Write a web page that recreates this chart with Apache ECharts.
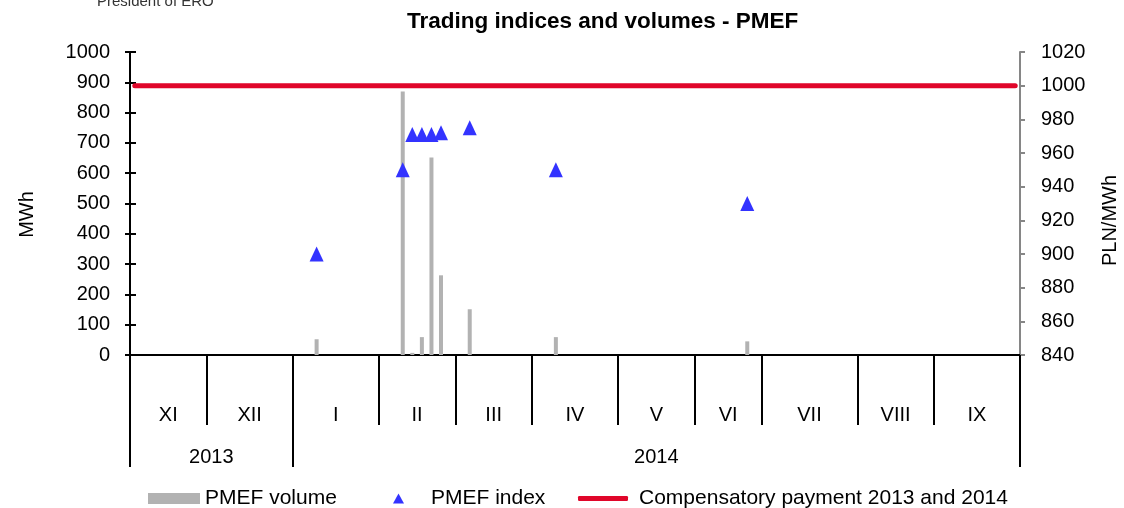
<!DOCTYPE html>
<html>
<head>
<meta charset="utf-8">
<script src="https://cdn.jsdelivr.net/npm/echarts@6/dist/echarts.min.js"></script>
<style>
html,body{margin:0;padding:0;background:#fff;}
#chart{width:1124px;height:508px;}
</style>
</head>
<body>
<div id="chart"></div>
<script>
// ---- data ----
const monthLabels = ['XI','XII','I','II','III','IV','V','VI','VII','VIII','IX'];
const monthSlots = [8, 9, 9, 8, 8, 9, 8, 7, 10, 8, 9];   // slots per month on the date axis
const yearLabels = ['2013', '2014'];
const yearMonthCounts = [2, 9];                            // months per year group
const tradeSlots = [19, 28, 29, 30, 31, 32, 35, 44, 64];   // slot index of each trading day
const volumeMWh = [52, 870, 7, 59, 652, 263, 151, 59, 45];
const indexPLN = [900, 950, 971, 971, 971, 972, 975, 950, 930];
const compensatoryPLN = 1000;
const leftAxisRange = [0, 1000, 100];
const rightAxisRange = [840, 1020, 20];

// ---- derived structures ----
const totalSlots = monthSlots.reduce((a, b) => a + b, 0);
const monthBounds = [0];
monthSlots.forEach(n => monthBounds.push(monthBounds[monthBounds.length - 1] + n));
const monthMids = monthSlots.map((n, i) => monthBounds[i] + n / 2);
const yearBounds = [0];
let mi = 0;
yearMonthCounts.forEach(c => { mi += c; yearBounds.push(monthBounds[mi]); });
const yearMids = yearLabels.map((_, i) => (yearBounds[i] + yearBounds[i + 1]) / 2);
function nearestLabel(v, mids, labels) {
  let best = 0;
  mids.forEach((m, i) => { if (Math.abs(m - v) < Math.abs(mids[best] - v)) best = i; });
  return labels[best];
}

const FONT = 'Liberation Sans';
const volumeData = tradeSlots.map((s, i) => [s + 0.5, volumeMWh[i]]);
const indexData = tradeSlots.map((s, i) => [s + 0.5, indexPLN[i]]);
const compData = [[0.5, compensatoryPLN], [totalSlots - 0.5, compensatoryPLN]];

const chart = echarts.init(document.getElementById('chart'), null, {renderer: 'canvas'});
const hiddenX = {
  type: 'value', min: 0, max: totalSlots, gridIndex: 0, position: 'bottom',
  splitLine: {show: false}
};
const plain = v => String(v);
chart.setOption({
  animation: false,
  textStyle: {fontFamily: FONT, color: '#000'},
  title: [
    {text: 'Trading indices and volumes - PMEF', left: 402, top: 5,
     textStyle: {fontFamily: FONT, fontSize: 22.5, fontWeight: 'bold', color: '#000'}},
    {text: 'President of ERO', left: 92, top: -11,
     textStyle: {fontFamily: FONT, fontSize: 15, fontWeight: 'normal', color: '#333'}}
  ],
  legend: [
    {data: ['PMEF volume'], left: 143, top: 483, icon: 'rect', itemWidth: 52, itemHeight: 11,
     textStyle: {fontFamily: FONT, fontSize: 21, color: '#000'}},
    {data: ['PMEF index'], left: 388, top: 483, icon: 'triangle', itemWidth: 11, itemHeight: 10,
     textStyle: {fontFamily: FONT, fontSize: 21, color: '#000', padding: [0, 0, 0, 22]}},
    {data: ['Compensatory payment 2013 and 2014'], left: 573, top: 483, icon: 'roundRect',
     itemWidth: 50, itemHeight: 5,
     textStyle: {fontFamily: FONT, fontSize: 21, color: '#000', padding: [0, 0, 0, 6]}}
  ],
  grid: {left: 130, right: 104, top: 52, bottom: 153, containLabel: false, outerBoundsMode: 'none'},
  xAxis: [
    Object.assign({}, hiddenX, {
      axisLine: {show: true, onZero: false, lineStyle: {color: '#000', width: 2}},
      axisTick: {show: false}, axisLabel: {show: false}
    }),
    Object.assign({}, hiddenX, {
      axisLine: {show: false, onZero: false},
      axisTick: {show: true, customValues: monthBounds, length: 70, lineStyle: {color: '#000', width: 2}},
      axisLabel: {show: true, customValues: monthMids, margin: 50, fontSize: 20, color: '#000',
        fontFamily: FONT, formatter: v => nearestLabel(v, monthMids, monthLabels)}
    }),
    Object.assign({}, hiddenX, {
      axisLine: {show: false, onZero: false},
      axisTick: {show: true, customValues: yearBounds, length: 112, lineStyle: {color: '#000', width: 2}},
      axisLabel: {show: true, customValues: yearMids, margin: 92, fontSize: 20, color: '#000',
        fontFamily: FONT, formatter: v => nearestLabel(v, yearMids, yearLabels)}
    })
  ],
  yAxis: [
    {type: 'value', position: 'left', min: leftAxisRange[0], max: leftAxisRange[1], interval: leftAxisRange[2],
     name: 'MWh', nameLocation: 'middle', nameGap: 93,
     nameTextStyle: {fontSize: 20, color: '#000', fontFamily: FONT, padding: [0, 22, 0, 0]},
     axisLine: {show: true, onZero: false, lineStyle: {color: '#000', width: 2}},
     axisTick: {show: true, length: 5, lineStyle: {color: '#000', width: 2}},
     axisLabel: {margin: 20, fontSize: 20, color: '#000', fontFamily: FONT, formatter: plain},
     splitLine: {show: false}},
    {type: 'value', position: 'right', min: rightAxisRange[0], max: rightAxisRange[1], interval: rightAxisRange[2],
     name: 'PLN/MWh', nameLocation: 'middle', nameGap: 80,
     nameTextStyle: {fontSize: 20, color: '#000', fontFamily: FONT, padding: [0, 34, 0, 0]},
     axisLine: {show: true, onZero: false, lineStyle: {color: '#868686', width: 2}},
     axisTick: {show: true, length: 5, lineStyle: {color: '#868686', width: 2}},
     axisLabel: {margin: 21, fontSize: 20, color: '#000', fontFamily: FONT, formatter: plain},
     splitLine: {show: false}},
    {type: 'value', position: 'left', min: leftAxisRange[0], max: leftAxisRange[1], interval: leftAxisRange[2],
     axisLine: {show: false, onZero: false}, axisLabel: {show: false}, splitLine: {show: false},
     axisTick: {show: true, inside: true, length: 6, lineStyle: {color: '#000', width: 2}}}
  ],
  series: [
    {name: 'PMEF volume', type: 'bar', xAxisIndex: 0, yAxisIndex: 0, barWidth: 4,
     itemStyle: {color: '#B2B2B2'}, data: volumeData},
    {name: 'Compensatory payment 2013 and 2014', type: 'line', xAxisIndex: 0, yAxisIndex: 1,
     color: '#E0062A', symbol: 'none', lineStyle: {color: '#E0062A', width: 5, cap: 'round'},
     itemStyle: {color: '#E0062A'}, data: compData, z: 3},
    {name: 'PMEF index', type: 'scatter', xAxisIndex: 0, yAxisIndex: 1, symbol: 'triangle', symbolSize: [14, 15],
     itemStyle: {color: '#3333FF', opacity: 1}, data: indexData, z: 4}
  ]
});
</script>
</body>
</html>
